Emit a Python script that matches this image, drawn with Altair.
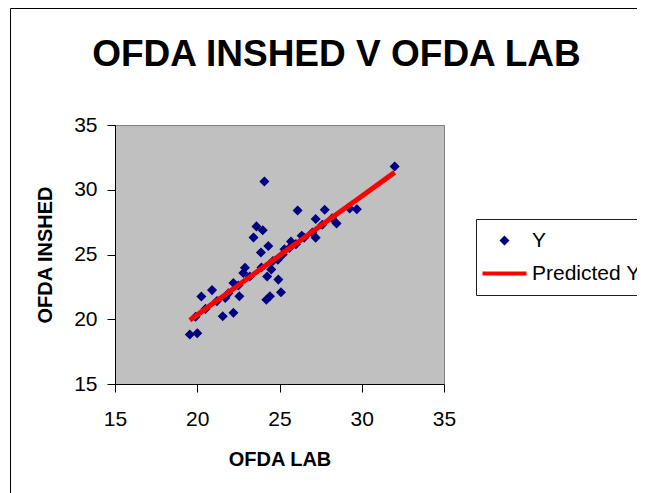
import altair as alt
import pandas as pd

# OFDA LAB (x) and OFDA INSHED (y) readings
ofda_lab = [19.55, 20.00, 20.25, 20.90, 21.55, 22.20, 22.56, 22.20, 21.70, 22.90,
            22.80, 23.60, 23.98, 23.42, 24.32, 23.87, 24.08, 24.50, 24.25, 24.93,
            25.09, 24.42, 24.20, 26.10, 27.75, 27.20, 28.47, 27.20, 26.35, 29.27,
            29.70, 32.00, 19.90, 20.50, 21.20, 21.90, 22.50, 23.20, 23.90, 24.60,
            25.20, 25.60, 26.00, 26.50, 27.00, 27.60, 28.20, 25.30, 24.90, 25.70]
ofda_inshed = [18.82, 18.92, 21.75, 22.25, 20.23, 20.50, 21.77, 22.80, 21.65, 23.98,
               23.57, 27.17, 26.88, 26.32, 25.65, 25.16, 30.64, 23.85, 23.30, 23.06,
               22.08, 21.77, 21.50, 28.40, 28.45, 27.74, 27.40, 26.30, 26.45, 28.55,
               28.50, 31.80, 20.20, 20.80, 21.40, 22.00, 22.60, 23.30, 24.00, 24.50,
               25.00, 25.50, 25.80, 26.30, 26.70, 27.30, 27.80, 25.40, 24.60, 26.00]
predicted_y = [19.93, 20.34, 20.57, 21.17, 21.76, 22.36, 22.69, 22.36, 21.90, 23.00,
               22.91, 23.64, 23.99, 23.48, 24.30, 23.89, 24.08, 24.47, 24.24, 24.86,
               25.01, 24.39, 24.19, 25.93, 27.45, 26.94, 28.11, 26.94, 26.16, 28.84,
               29.23, 31.34, 20.25, 20.80, 21.44, 22.08, 22.63, 23.27, 23.92, 24.56,
               25.11, 25.48, 25.84, 26.30, 26.76, 27.31, 27.86, 25.20, 24.83, 25.57]

series_names = ["Y", "Predicted Y"]
series_colors = ["#000080", "#FF0000"]
tick_values = [15, 20, 25, 30, 35]

DIAMOND = "M0,-0.3L0.3,0L0,0.3L-0.3,0Z"
LINE = "M-3,0L3,0"
FONT = "Liberation Sans"

df_pts = pd.DataFrame({"lab": ofda_lab, "val": ofda_inshed, "series": "Y"})
df_pred = pd.DataFrame({"lab": ofda_lab, "val": predicted_y})
df_frame = pd.DataFrame({"k": [0]})

x_enc = alt.X("lab:Q",
              scale=alt.Scale(domain=[15, 35], nice=False, zero=False),
              axis=alt.Axis(values=tick_values, title="OFDA LAB", labelPadding=16,
                            titlePadding=20, labelFlush=False))
y_enc = alt.Y("val:Q",
              scale=alt.Scale(domain=[15, 35], nice=False, zero=False),
              axis=alt.Axis(values=tick_values, title="OFDA INSHED", labelPadding=10,
                            titlePadding=18, labelFlush=False))

leg = alt.Legend(title=None, orient="none", legendX=361, legendY=94,
                 symbolSize=215, labelFontSize=21, labelFont=FONT, labelColor="black",
                 padding=11, symbolOffset=7, labelOffset=17, rowPadding=11,
                 strokeColor="#202020", fillColor="white", symbolStrokeWidth=4)

frame = alt.Chart(df_frame).mark_rect(
    fill="transparent", stroke="black", strokeWidth=1, clip=False
).encode(x=alt.value(-104.5), y=alt.value(-116.5), x2=alt.value(700), y2=alt.value(600))

pts = alt.Chart(df_pts).mark_point(
    filled=True, size=215, strokeWidth=4, strokeJoin="miter", opacity=1
).encode(
    x=x_enc, y=y_enc,
    color=alt.Color("series:N", scale=alt.Scale(domain=series_names, range=series_colors), legend=leg),
    stroke=alt.Stroke("series:N", scale=alt.Scale(domain=series_names, range=series_colors), legend=leg),
    shape=alt.Shape("series:N", scale=alt.Scale(domain=series_names, range=[DIAMOND, LINE]), legend=leg),
)

line = alt.Chart(df_pred).mark_line(color="#FF0000", strokeWidth=5).encode(
    x=alt.X("lab:Q"), y=alt.Y("val:Q"), order=alt.Order("lab:Q")
)

chart = alt.layer(frame, pts, line).properties(
    width=329, height=259,
    background="white",
    autosize=alt.AutoSizeParams(type="none"),
    padding={"left": 107, "top": 117, "right": 193, "bottom": 109},
    title=alt.TitleParams("OFDA INSHED V OFDA LAB", fontSize=37, font=FONT,
                          fontWeight="bold", anchor="middle", frame="group",
                          dx=57, dy=95, offset=0, baseline="alphabetic", color="black"),
).configure_view(
    fill="#C0C0C0", stroke="#808080", strokeWidth=1
).configure_axis(
    domainColor="black", domainWidth=1, tickColor="black", tickSize=8, tickWidth=1,
    labelFont=FONT, labelFontSize=21, labelColor="black", labelOverlap=False,
    titleFont=FONT, titleFontSize=20, titleFontWeight="bold", titleColor="black",
    grid=False
)

chart.save("out.html", embed_options={"renderer": "svg", "actions": False})
